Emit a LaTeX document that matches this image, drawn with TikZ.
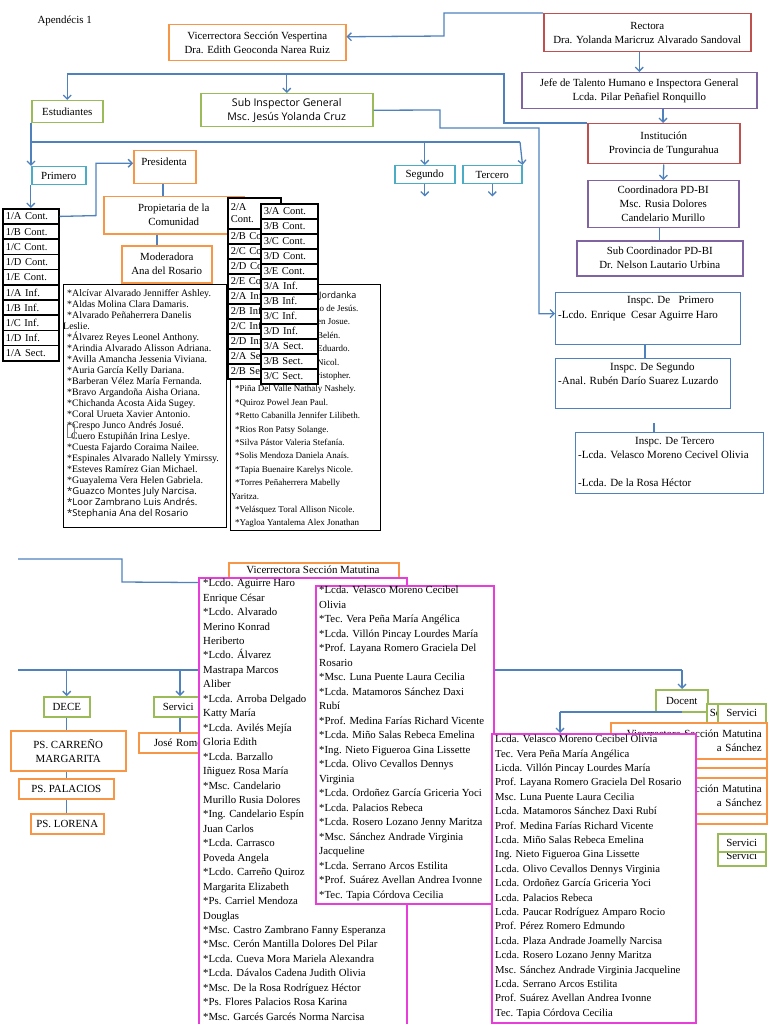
\documentclass[tikz,border=0pt]{standalone}
\usepackage{fontspec}
\setmainfont{Liberation Serif}
\newfontfamily\sansf{Open Sans}
\usepackage{tikz}
\usetikzlibrary{arrows.meta, positioning}
\definecolor{colOrange}{HTML}{F79646}
\definecolor{colGreen} {HTML}{9BBB59}
\definecolor{colTeal}  {HTML}{4BACC6}
\definecolor{colRed}   {HTML}{C0504D}
\definecolor{colPurple}{HTML}{8064A2}
\definecolor{colBlue}  {HTML}{4F81BD}
\definecolor{colPink}  {HTML}{E83CDB}
\tikzset{
  block/.style={
    draw, fill=white, anchor=north west, align=center,
    inner sep=0pt, line width=1.5pt,
    font=\fontsize{10.9}{14}\selectfont
  },
  boxsize/.style 2 args={minimum width=#1pt, minimum height=#2pt},
  orangebox/.style={block, draw=colOrange},
  greenbox/.style ={block, draw=colGreen},
  tealbox/.style  ={block, draw=colTeal},
  redbox/.style   ={block, draw=colRed},
  purplebox/.style={block, draw=colPurple},
  inspbox/.style  ={block, draw=colBlue, line width=1.3pt},
  pinkbox/.style  ={block, draw=colPink, line width=1.6pt},
  listbox/.style  ={block, draw=black, line width=1.2pt},
  classbox/.style={
    draw=black, fill=white, anchor=north west, align=left,
    line width=1.6pt, inner xsep=3pt, inner ysep=0pt,
    text width=50pt, minimum height=15.2pt,
    font=\fontsize{10.5}{12}\selectfont
  },
  listtext/.style={anchor=north west, align=left, inner sep=0pt},
  conn/.style={draw=colBlue, line width=1.3pt},
  arr/.style ={conn, -{Straight Barb[length=4pt,width=8pt]}}
}
\newcommand{\sstar}{\hspace*{4pt}*}
\newcommand{\tstar}{*}
\lineskiplimit=-50pt

\begin{document}
\begin{tikzpicture}[x=1pt, y=-1pt, font=\fontsize{10.9}{14}\selectfont]
  \useasboundingbox (0,0) rectangle (768,1024);
  \clip (0,0) rectangle (768,1024);

  %% ── Junction points ─────────────────────────────────────────────
  \coordinate (topbar)  at (0,74);
  \coordinate (barL)    at (31,142);
  \coordinate (barR)    at (520,142);
  \coordinate (inspcut) at (654,423);
  \coordinate (mstart)  at (18,559);
  \coordinate (lstart)  at (18,670);
  \coordinate (docbar)  at (560,712);

  \node[anchor=west] (apx) at (34,21) {Apendécis 1};

  %% ── Authorities (top) ───────────────────────────────────────────
  \node[orangebox, boxsize={177}{36}] (vesp) at (168,24)
    {Vicerrectora Sección Vespertina\\Dra. Edith Geoconda Narea Ruiz};
  \node[redbox, boxsize={207}{38}] (rect) at (543,13)
    {Rectora\\Dra. Yolanda Maricruz Alvarado Sandoval};
  \node[purplebox, boxsize={235}{36}] (jefe) at (521,72)
    {Jefe de Talento Humano e Inspectora General\\Lcda. Pilar Peñafiel Ronquillo};
  \node[redbox, boxsize={152}{40}] (inst) at (587,123)
    {Institución\\Provincia de Tungurahua};
  \node[purplebox, boxsize={151}{47}] (coord) at (587,180)
    {Coordinadora PD-BI\\Msc. Rusia Dolores\\Candelario Murillo};
  \node[purplebox, boxsize={166}{35}] (subco) at (576,240)
    {Sub Coordinador PD-BI\\Dr. Nelson Lautario Urbina};
  \node[greenbox, boxsize={172}{33}, font=\sansf\fontsize{10.6}{13.5}\selectfont] (subinsp) at (200,93)
    {Sub Inspector General\\Msc. Jesús Yolanda Cruz};

  %% ── Students ────────────────────────────────────────────────────
  \node[greenbox, boxsize={71}{22}] (estud) at (31,100) {Estudiantes};
  \node[tealbox, boxsize={54}{18}] (prim) at (31,166) {Primero};
  \node[tealbox, boxsize={60}{18}] (seg) at (394,165) {Segundo};
  \node[tealbox, boxsize={59}{18}] (terc) at (462,165) {Tercero};
  \coordinate[below=12pt of seg.south] (segend);
  \coordinate[below=12pt of terc.south] (tercend);

  \node[orangebox, boxsize={62}{33}] (presid) at (133,150) {};
  \node (presidtxt) at (164,162) {Presidenta};
  \node[orangebox, boxsize={140}{37}] (propi) at (103,196) {Propietaria de la\\Comunidad};
  \node[orangebox, boxsize={90}{37}] (moder) at (121,245) {Moderadora\\Ana del Rosario};

  %% ── Student lists ───────────────────────────────────────────────
  \node[listbox, boxsize={163}{243}] (listA) at (63,284) {};
  \node[listtext, font=\fontsize{9.9}{11}\selectfont] (listAtxt) at (63,289) {%
    \sstar Alcívar Alvarado Jenniffer Ashley.\\
    \sstar Aldas Molina Clara Damaris.\\
    \sstar Alvarado Peñaherrera Danelis\\
    Leslie.\\
    \sstar Álvarez Reyes Leonel Anthony.\\
    \sstar Arindia Alvarado Alisson Adriana.\\
    \sstar Avilla Amancha Jessenia Viviana.\\
    \sstar Auria García Kelly Dariana.\\
    \sstar Barberan Vélez María Fernanda.\\
    \sstar Bravo Argandoña Aisha Oriana.\\
    \sstar Chichanda Acosta Aida Sugey.\\
    \sstar Coral Urueta Xavier Antonio.\\
    \sstar Crespo Junco Andrés Josué.\\
    \hspace*{8pt}Cuero Estupiñán Irina Leslye.\\
    \sstar Cuesta Fajardo Coraima Nailee.\\
    \sstar Espinales Alvarado Nallely Ymirssy.\\
    \sstar Esteves Ramírez Gian Michael.\\
    \sstar Guayalema Vera Helen Gabriela.\\
    {\sansf\fontsize{9.5}{11}\selectfont\sstar Guazco Montes July Narcisa.}\\
    {\sansf\fontsize{9.5}{11}\selectfont\sstar Loor Zambrano Luis Andrés.}\\
    {\sansf\fontsize{9.5}{11}\selectfont\sstar Stephania Ana del Rosario}};
  \node[draw=gray, line width=0.5pt, anchor=north west, inner sep=0pt,
        minimum width=7pt, minimum height=13pt] (mark) at (67,424) {};

  \node[listbox, boxsize={150}{246}] (listB) at (230,284) {};
  \node[listtext, font=\fontsize{9}{13.4}\selectfont] (listBtxt) at (231,291) {%
    \hspace*{88pt}{\sansf Jordanka}\\
    \hspace*{86pt}lo de Jesús.\\
    \hspace*{86pt}en Josue.\\
    \hspace*{86pt}Belén.\\
    \hspace*{86pt}Eduardo.\\
    \hspace*{86pt}Nicol.\\
    \hspace*{86pt}ristopher.\\
    \sstar Piña Del Valle Nathaly Nashely.\\
    \sstar Quiroz Powel Jean Paul.\\
    \sstar Retto Cabanilla Jennifer Lilibeth.\\
    \sstar Rios Ron Patsy Solange.\\
    \sstar Silva Pástor Valeria Stefanía.\\
    \sstar Solis Mendoza Daniela Anaís.\\
    \sstar Tapia Buenaire Karelys Nicole.\\
    \sstar Torres Peñaherrera Mabelly\\
    Yaritza.\\
    \sstar Velásquez Toral Allison Nicole.\\
    \sstar Yagloa Yantalema Alex Jonathan};

  %% ── Courses (first, second, third) ──────────────────────────────
  \foreach \lbl [count=\i] in {1/A Cont.,1/B Cont.,1/C Cont.,1/D Cont.,1/E Cont.,
      1/A Inf.,1/B Inf.,1/C Inf.,1/D Inf.,1/A Sect.}
    \node[classbox] (one\i) at (2,{208+15.2*(\i-1)}) {\lbl};

  \node[classbox, text width=47pt, minimum height=31pt] (two0) at (227,197) {2/A\\Cont.};
  \foreach \lbl [count=\i] in {2/B Cont.,2/C Cont.,2/D Cont.,2/E Cont.,2/A Inf.,
      2/B Inf.,2/C Inf.,2/D Inf.,2/A Sect.,2/B Sect.}
    \node[classbox, text width=47pt, minimum height=15pt] (two\i) at (227,{228+15*(\i-1)}) {\lbl};

  \foreach \lbl [count=\i] in {3/A Cont.,3/B Cont.,3/C Cont.,3/D Cont.,3/E Cont.,
      3/A Inf.,3/B Inf.,3/C Inf.,3/D Inf.,3/A Sect.,3/B Sect.,3/C Sect.}
    \node[classbox, text width=51pt, minimum height=15pt] (three\i) at (260,{203+15*(\i-1)}) {\lbl};

  %% ── Inspectors (right) ──────────────────────────────────────────
  \node[inspbox, boxsize={185}{52}] (insp1) at (555,292) {};
  \node[listtext, font=\fontsize{11}{15}\selectfont] (insp1txt) at (558,296)
    {\hspace*{69pt}Inspc. De\ \ \ Primero\\-Lcdo. Enrique\ \ Cesar Aguirre Haro};
  \node[inspbox, boxsize={175}{50}] (insp2) at (555,358) {};
  \node[listtext, font=\fontsize{11}{14}\selectfont] (insp2txt) at (558,363)
    {\hspace*{52pt}Inspc. De Segundo\\-Anal. Rubén Darío Suarez Luzardo};
  \node[inspbox, boxsize={188}{61}] (insp3) at (575,432) {};
  \node[listtext, font=\fontsize{11}{14}\selectfont] (insp3txt) at (578,437)
    {\hspace*{57pt}Inspc. De Tercero\\-Lcda. Velasco Moreno Cecivel Olivia\\ \\-Lcda. De la Rosa Héctor};

  %% ── Top connectors ──────────────────────────────────────────────
  \draw[arr] (rect.north west) -| (444,36) -- ([yshift=6pt]vesp.east);
  \draw[arr] (rect.south -| jefe.north) -- (jefe.north);
  \draw[arr] (jefe.south -| 663,0) -- (inst.north -| 663,0);
  \draw[arr] (inst.south) -- (coord.north);
  \draw[conn] (coord.south -| subco.north) -- (subco.north);
  \draw[arr] (inst.north west) -| (504,74) -| (estud.north);
  \draw[arr] (subinsp.north |- topbar) -- (subinsp.north);
  \draw[arr] (subinsp.east) -- (440,110) |- (539,128) |- ([yshift=5pt]insp1.west);
  \draw[conn] (insp1.south -| 645,0) -- (insp2.north -| 645,0);
  \draw[conn] (inspcut) -- (insp3.north -| inspcut);
  \draw[arr] (estud.south west) -- (prim.north west);
  \draw[conn] (barL) -- (barR);
  \draw[arr] (seg.north |- barR) -- (seg.north);
  \draw[arr] (barR) -- (terc.north east);
  \draw[arr] (seg.south) -- (segend);
  \draw[arr] (terc.south) -- (tercend);
  \draw[arr] (one1.north |- prim.south) -- (one1.north);
  \draw[arr] (one1.east) -- (96,215.6) |- ([yshift=4pt]presid.west);
  \draw[conn] (presid.south -| 163,0) -- (propi.north -| 163,0);
  \draw[conn] (propi.south -| 157,0) -- (moder.north -| 157,0);

  %% ── Lower half: morning section ─────────────────────────────────
  \node[orangebox, boxsize={170}{40}] (vmat) at (228,562) {};
  \node (vmattxt) at (313,570) {Vicerrectora Sección Matutina};
  \draw[conn] (mstart) -| (122,582) -- (vmat.west);
  \draw[conn] (lstart) -- (682,670);
  \node[greenbox, boxsize={46}{20}] (dece) at (43,696) {DECE};
  \node[greenbox, boxsize={62}{20}, align=left, text width=44pt] (servL) at (153,696) {Servici};
  \draw[arr] (dece.north |- lstart) -- (dece.north);
  \draw[arr] (180,670) -- (servL.north -| 180,0);
  \node[orangebox, boxsize={115}{40}] (carreno) at (10,730) {PS. CARREÑO\\MARGARITA};
  \node[orangebox, boxsize={95}{20}] (palac) at (18,778) {PS. PALACIOS};
  \node[orangebox, boxsize={73}{20}] (lorena) at (30,813) {PS. LORENA};
  \node[orangebox, boxsize={80}{20}, align=left, text width=50pt] (jose) at (138,732) {José Rome};
  \draw[conn] (dece.south) -- (carreno.north -| dece.south);
  \draw[conn] (carreno.south -| dece.south) -- (palac.north -| dece.south);
  \draw[conn] (palac.south -| dece.south) -- (lorena.north -| dece.south);
  \draw[conn] (servL.south -| 180,0) -- (jose.north -| 180,0);

  %% ── Teacher lists ───────────────────────────────────────────────
  \node[pinkbox, boxsize={208}{470}] (pinkA) at (198,577) {};
  \node[listtext, font=\fontsize{10.8}{14.45}\selectfont] (pinkAtxt) at (203,579) {%
    \tstar Lcdo. Aguirre Haro\\ Enrique César\\
    \tstar Lcdo. Alvarado\\ Merino Konrad\\ Heriberto\\
    \tstar Lcdo. Álvarez\\ Mastrapa Marcos\\ Aliber\\
    \tstar Lcda. Arroba Delgado\\ Katty María\\
    \tstar Lcda. Avilés Mejía\\ Gloria Edith\\
    \tstar Lcda. Barzallo\\ Iñiguez Rosa María\\
    \tstar Msc. Candelario\\ Murillo Rusia Dolores\\
    \tstar Ing. Candelario Espín\\ Juan Carlos\\
    \tstar Lcda. Carrasco\\ Poveda Angela\\
    \tstar Lcdo. Carreño Quiroz\\ Margarita Elizabeth\\
    \tstar Ps. Carriel Mendoza\\ Douglas\\
    \tstar Msc. Castro Zambrano Fanny Esperanza\\
    \tstar Msc. Cerón Mantilla Dolores Del Pilar\\
    \tstar Lcda. Cueva Mora Mariela Alexandra\\
    \tstar Lcda. Dávalos Cadena Judith Olivia\\
    \tstar Msc. De la Rosa Rodríguez Héctor\\
    \tstar Ps. Flores Palacios Rosa Karina\\
    \tstar Msc. Garcés Garcés Norma Narcisa};

  \node[pinkbox, boxsize={178}{318}] (pinkB) at (315,585) {};
  \node[listtext, font=\fontsize{10.8}{14.5}\selectfont] (pinkBtxt) at (319,586) {%
    \tstar Lcda. Velasco Moreno Cecibel\\ Olivia\\
    \tstar Tec. Vera Peña María Angélica\\
    \tstar Lcda. Villón Pincay Lourdes María\\
    \tstar Prof. Layana Romero Graciela Del\\ Rosario\\
    \tstar Msc. Luna Puente Laura Cecilia\\
    \tstar Lcda. Matamoros Sánchez Daxi\\ Rubí\\
    \tstar Prof. Medina Farías Richard Vicente\\
    \tstar Lcda. Miño Salas Rebeca Emelina\\
    \tstar Ing. Nieto Figueroa Gina Lissette\\
    \tstar Lcda. Olivo Cevallos Dennys\\ Virginia\\
    \tstar Lcda. Ordoñez García Griceria Yoci\\
    \tstar Lcda. Palacios Rebeca\\
    \tstar Lcda. Rosero Lozano Jenny Maritza\\
    \tstar Msc. Sánchez Andrade Virginia\\ Jacqueline\\
    \tstar Lcda. Serrano Arcos Estilita\\
    \tstar Prof. Suárez Avellan Andrea Ivonne\\
    \tstar Tec. Tapia Córdova Cecilia};

  %% ── Right cluster: teachers / services ──────────────────────────
  \node[greenbox, boxsize={52}{22}] (docent) at (655,689) {Docent};
  \draw[arr] (682,670) -- (docent.north -| 682,0);
  \node[greenbox, boxsize={44}{19}, align=left, text width=38pt] (servTb) at (706,703) {Servici};
  \node[greenbox, boxsize={48}{19}] (servT) at (717,703) {Servici};

  \node[orangebox, boxsize={156}{36}, align=right, text width=146pt] (vmat4) at (610,787)
    {\mbox{}\\a Sánchez};
  \node[orangebox, boxsize={156}{36}, align=right, text width=146pt] (vmat3) at (610,777)
    {Vicerrectora Sección Matutina\\a Sánchez};
  \node[orangebox, boxsize={156}{36}, align=right, text width=146pt] (vmat2b) at (610,741)
    {\mbox{}\\a Sánchez};
  \node[orangebox, boxsize={156}{36}, align=right, text width=146pt] (vmat2a) at (610,731)
    {\mbox{}\\a Sánchez};
  \node[orangebox, boxsize={156}{36}, align=right, text width=146pt] (vmat1) at (610,722)
    {Vicerrectora Sección Matutina\\a Sánchez};

  \node[greenbox, boxsize={48}{19}] (servBb) at (717,846) {Servici};
  \node[greenbox, boxsize={48}{18}] (servB) at (717,833) {Servici};

  \node[pinkbox, boxsize={204}{289}] (pinkC) at (491,733) {};
  \node[listtext, font=\fontsize{10.7}{14.4}\selectfont] (pinkCtxt) at (495,735) {%
    Lcda. Velasco Moreno Cecibel Olivia\\
    Tec. Vera Peña María Angélica\\
    Licda. Villón Pincay Lourdes María\\
    Prof. Layana Romero Graciela Del Rosario\\
    Msc. Luna Puente Laura Cecilia\\
    Lcda. Matamoros Sánchez Daxi Rubí\\
    Prof. Medina Farías Richard Vicente\\
    Lcda. Miño Salas Rebeca Emelina\\
    Ing. Nieto Figueroa Gina Lissette\\
    Lcda. Olivo Cevallos Dennys Virginia\\
    Lcda. Ordoñez García Griceria Yoci\\
    Lcda. Palacios Rebeca\\
    Lcda. Paucar Rodríguez Amparo Rocio\\
    Prof. Pérez Romero Edmundo\\
    Lcda. Plaza Andrade Joamelly Narcisa\\
    Lcda. Rosero Lozano Jenny Maritza\\
    Msc. Sánchez Andrade Virginia Jacqueline\\
    Lcda. Serrano Arcos Estilita\\
    Prof. Suárez Avellan Andrea Ivonne\\
    Tec. Tapia Córdova Cecilia};

  \draw[conn] (docent.south) -- (docent.south |- docbar) -- (docbar);
  \draw[arr] (docbar) -- (pinkC.north -| docbar);
\end{tikzpicture}
\end{document}
